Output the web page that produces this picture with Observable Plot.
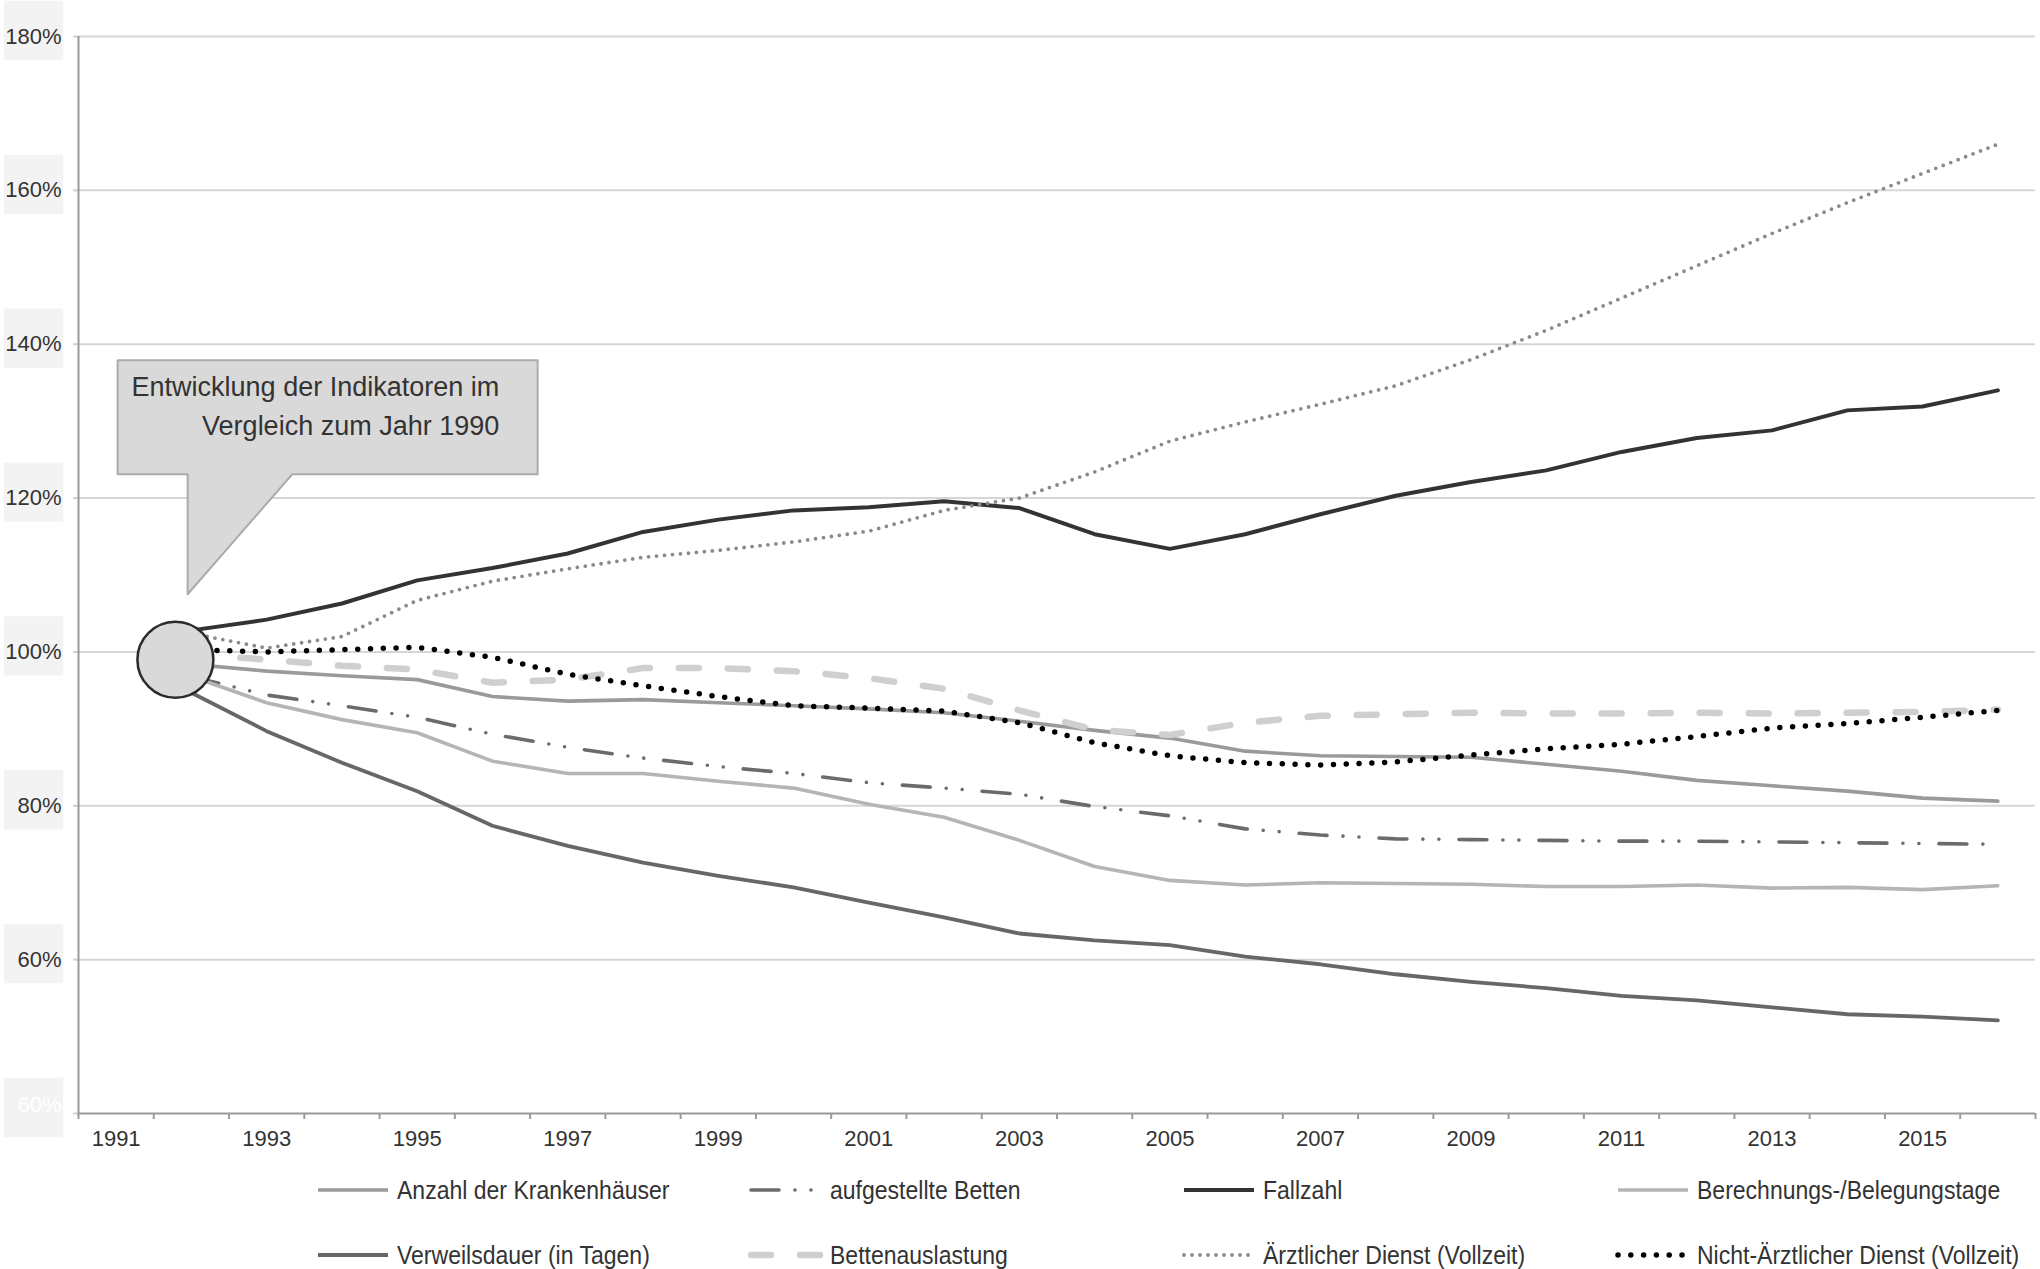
<!DOCTYPE html>
<html><head><meta charset="utf-8">
<script src="https://cdn.jsdelivr.net/npm/d3@7"></script>
<script src="https://cdn.jsdelivr.net/npm/@observablehq/plot@0.6"></script>
<style>
html,body{margin:0;padding:0;background:#fff;}
#wrap{width:2040px;}
#legend{position:relative;width:2040px;height:109px;font-family:"Liberation Sans",Arial,sans-serif;font-size:26px;color:#333;}
.item{position:absolute;display:flex;align-items:center;height:40px;white-space:nowrap;}
.item svg{margin-right:6px;flex:none;}
.item span{display:inline-block;transform:scaleX(0.885);transform-origin:left center;}
</style></head><body><div id="wrap"><div id="chart"></div><div id="legend"></div></div>
<script>
// ---- data (index, % of 1990) ----
const years = [1992,1993,1994,1995,1996,1997,1998,1999,2000,2001,2002,2003,2004,2005,2006,2007,2008,2009,2010,2011,2012,2013,2014,2015,2016];
const anzahlKrankenhaeuser = [98.4,97.5,96.9,96.4,94.2,93.6,93.8,93.4,93.0,92.6,92.1,91.0,89.8,88.8,87.1,86.5,86.4,86.3,85.4,84.5,83.3,82.6,81.9,81.0,80.6];
const aufgestellteBetten = [96.8,94.4,93.0,91.5,89.3,87.6,86.2,85.1,84.2,83.0,82.3,81.5,79.9,78.7,77.0,76.2,75.7,75.6,75.5,75.4,75.4,75.3,75.2,75.1,75.0];
const fallzahl = [102.8,104.2,106.3,109.3,110.9,112.8,115.6,117.2,118.4,118.8,119.6,118.7,115.3,113.4,115.3,117.9,120.3,122.1,123.6,126.0,127.8,128.8,131.4,131.9,134.0];
const belegungstage = [96.8,93.4,91.2,89.5,85.8,84.2,84.2,83.2,82.3,80.2,78.5,75.5,72.1,70.3,69.7,70.0,69.9,69.8,69.5,69.5,69.7,69.3,69.4,69.1,69.6];
const verweilsdauer = [94.7,89.7,85.6,81.9,77.4,74.8,72.6,70.9,69.4,67.4,65.5,63.4,62.5,61.9,60.4,59.4,58.1,57.1,56.3,55.3,54.7,53.8,52.9,52.6,52.1];
const bettenauslastung = [99.7,99.0,98.2,97.7,96.0,96.4,97.9,97.9,97.5,96.6,95.2,92.4,89.9,89.2,90.8,91.7,91.9,92.1,92.0,92.0,92.1,92.0,92.1,92.2,92.5];
const aerztlicherDienst = [102.4,100.5,102.0,106.7,109.2,110.8,112.3,113.2,114.3,115.7,118.4,120.0,123.4,127.4,129.9,132.2,134.6,138.0,141.8,146.0,150.2,154.4,158.4,162.2,166.0];
const nichtAerztlicherDienst = [100.3,100.0,100.3,100.6,99.3,97.1,95.6,94.2,93.0,92.7,92.3,90.8,88.2,86.5,85.6,85.3,85.7,86.6,87.4,88.0,89.0,90.1,90.7,91.5,92.4];

const seriesNames = ["Anzahl der Krankenhäuser","aufgestellte Betten","Fallzahl","Berechnungs-/Belegungstage","Verweilsdauer (in Tagen)","Bettenauslastung","Ärztlicher Dienst (Vollzeit)","Nicht-Ärztlicher Dienst (Vollzeit)"];
const seriesValues = [anzahlKrankenhaeuser,aufgestellteBetten,fallzahl,belegungstage,verweilsdauer,bettenauslastung,aerztlicherDienst,nichtAerztlicherDienst];

const xCategories = [1991,1992,1993,1994,1995,1996,1997,1998,1999,2000,2001,2002,2003,2004,2005,2006,2007,2008,2009,2010,2011,2012,2013,2014,2015,2016];
const xTickLabels = ["1991","1993","1995","1997","1999","2001","2003","2005","2007","2009","2011","2013","2015"];
const yTicks = [40,60,80,100,120,140,160,180];
const yTickLabels = ["60%","60%","80%","100%","120%","140%","160%","180%"];
const calloutText = "Entwicklung der Indikatoren im\nVergleich zum Jahr 1990";

// ---- styles ----
const styles = [
  {stroke:"#9a9a9a", strokeWidth:3.6},
  {stroke:"#6b6b6b", strokeWidth:3.6, strokeDasharray:"28,16,0,16,0,20", strokeLinecap:"round"},
  {stroke:"#333333", strokeWidth:4},
  {stroke:"#b5b5b5", strokeWidth:3.6},
  {stroke:"#676767", strokeWidth:3.8},
  {stroke:"#cfcfcf", strokeWidth:6.5, strokeDasharray:"20,29", strokeLinecap:"round"},
  {stroke:"#8a8a8a", strokeWidth:3.8, strokeDasharray:"0,8", strokeLinecap:"round"},
  {stroke:"#000000", strokeWidth:5.5, strokeDasharray:"0,12.8", strokeLinecap:"round"}
];

const table = [];
seriesNames.forEach((name, s) => years.forEach((yr, i) => table.push({series:name, year:yr, value:seriesValues[s][i]})));

const firstValues = seriesValues.map(v => v[0]);
const circleDatum = {year: years[0], value: d3.mean(firstValues)};

const boundaries = xCategories.map(y => y - 0.5).concat([xCategories[xCategories.length-1] + 0.5]);
const oddYears = xTickLabels.map(Number);

// callout (annotation, in data coordinates)
const calloutOutline = [
  {x:1991.02,y:137.9},{x:1996.6,y:137.9},{x:1996.6,y:123.1},{x:1993.34,y:123.1},
  {x:1991.95,y:107.5},{x:1991.95,y:123.1},{x:1991.02,y:123.1},{x:1991.02,y:137.9}
];

const lineMarks = seriesNames.map((name, s) =>
  Plot.line(table.filter(d => d.series === name), {x:"year", y:"value", ...styles[s], strokeLinejoin:"round"})
);

const chart = Plot.plot({
  width: 2040,
  height: 1160,
  marginLeft: 78,
  marginRight: 5,
  marginTop: 36,
  marginBottom: 47,
  x: {type:"linear", domain:[boundaries[0], boundaries[boundaries.length-1]]},
  y: {domain:[40,180]},
  style: {fontFamily:"'Liberation Sans', Arial, sans-serif", fontSize:"22px", background:"#fff", overflow:"visible", color:"#333"},
  marks: [
    Plot.dot(yTicks, {y:d=>d, frameAnchor:"left", dx:-45, dy:-6, symbol:"square", r:33.5, fill:"#f3f3f3"}),
    Plot.ruleY(yTicks.filter(d => d > 40), {stroke:"#d6d6d6", strokeWidth:2}),
    Plot.axisY({ticks:yTicks, tickSize:5, stroke:"#d0d0d0", strokeWidth:2, tickFormat:()=>"", label:null}),
    Plot.text(yTicks.slice(1), {y:d=>d, text:(d,i)=>yTickLabels[i+1], frameAnchor:"left", dx:-17, textAnchor:"end", fill:"#333", fontSize:22}),
    Plot.text(yTicks.slice(0,1), {y:d=>d, text:(d,i)=>yTickLabels[i], frameAnchor:"left", dx:-17, dy:-9, textAnchor:"end", fill:"#ffffff", fontSize:22}),
    Plot.ruleX([boundaries[0]], {stroke:"#9a9a9a", strokeWidth:2}),
    Plot.ruleY([40], {stroke:"#9a9a9a", strokeWidth:2}),
    Plot.axisX({ticks:boundaries, tickSize:6, stroke:"#9a9a9a", strokeWidth:2, tickFormat:()=>"", label:null}),
    Plot.axisX({ticks:oddYears, tickSize:0, tickPadding:17, tickFormat:(d)=>xTickLabels[oddYears.indexOf(d)], fill:"#333", fontSize:22, label:null}),
    Plot.line(calloutOutline, {x:"x", y:"y", fill:"#d9d9d9", stroke:"#ababab", strokeWidth:2, curve:"linear"}),
    Plot.text([calloutText], {x:1996.09, y:132.3, text:d=>d, textAnchor:"end", lineAnchor:"middle", lineHeight:1.444, fontSize:27, fill:"#333"}),
    ...lineMarks,
    Plot.dot([circleDatum], {x:"year", y:"value", r:38, dx:-16, fill:"#d9d9d9", stroke:"#2b2b2b", strokeWidth:2.5})
  ]
});
document.getElementById("chart").appendChild(chart);

// ---- legend ----
const legendCols = [315, 748, 1181, 1615];
const legendRows = [30, 95];
const legend = document.getElementById("legend");
seriesNames.forEach((name, s) => {
  const st = styles[s];
  const item = document.createElement("div");
  item.className = "item";
  item.style.left = legendCols[s % 4] + "px";
  item.style.top = (legendRows[Math.floor(s / 4)] - 20) + "px";
  const ns = "http://www.w3.org/2000/svg";
  const svg = document.createElementNS(ns, "svg");
  svg.setAttribute("width", 76); svg.setAttribute("height", 14);
  const ln = document.createElementNS(ns, "line");
  ln.setAttribute("x1", 3); ln.setAttribute("x2", 73); ln.setAttribute("y1", 7); ln.setAttribute("y2", 7);
  ln.setAttribute("stroke", st.stroke);
  ln.setAttribute("stroke-width", st.strokeWidth);
  if (st.strokeDasharray) ln.setAttribute("stroke-dasharray", st.strokeDasharray);
  if (st.strokeLinecap) ln.setAttribute("stroke-linecap", st.strokeLinecap);
  svg.appendChild(ln);
  item.appendChild(svg);
  const span = document.createElement("span");
  span.textContent = name;
  item.appendChild(span);
  legend.appendChild(item);
});
</script></body></html>
